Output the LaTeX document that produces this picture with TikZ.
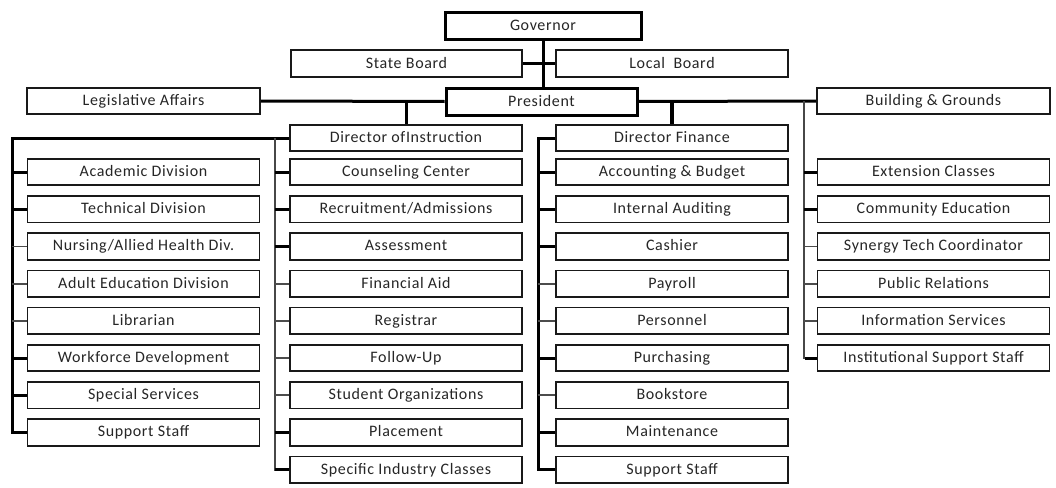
\documentclass[tikz,border=0pt]{standalone}
\usepackage{fontspec}
\setmainfont{Carlito}[LetterSpace=4]
\begin{document}
\begin{tikzpicture}[x=1pt,y=-1pt,
  box/.style={draw=black!90,line width=1.7pt,minimum width=232pt,minimum height=26.5pt,inner sep=0pt,
    text height=12pt,text depth=3pt,
    font=\fontsize{16}{18}\selectfont,text=black!85,fill=white},
  topbox/.style={box,line width=3pt,draw=black},
  heavy/.style={line width=3pt,draw=black},
  light/.style={line width=2pt,draw=black!72},
  stubH/.style={line width=3pt,draw=black},
  stubL/.style={line width=1.8pt,draw=black!70}]
\useasboundingbox (0,0) rectangle (1056,487);
% top level
\node[topbox,minimum width=196pt,minimum height=27pt] (gov) at (543,26) {Governor};
\node[box,minimum width=231pt] (sb) at (406.5,63.5) {State Board};
\node[box] (lb) at (672,63.5) {Local\ \ Board};
\node[box,minimum width=233pt] (leg) at (143.5,101) {Legislative Affairs};
\node[topbox,minimum width=191pt,minimum height=27pt] (pres) at (541.5,101.5) {President};
\node[box,minimum width=233pt] (bg) at (933.5,101) {Building \& Grounds};
\node[box] (di) at (406,138) {Director ofInstruction};
\node[box] (df) at (672,138) {Director Finance};
% columns
\foreach \i/\t in {1/{Academic Division},2/{Technical Division},3/{Nursing/Allied Health Div.},4/{Adult Education Division},5/{Librarian},6/{Workforce Development},7/{Special Services},8/{Support Staff}}
  \node[box] (c1-\i) at (143.5,{172+37.2*(\i-1)}) {\t};
\foreach \i/\t in {1/{Counseling Center},2/{Recruitment/Admissions},3/{Assessment},4/{Financial Aid},5/{Registrar},6/{Follow-Up},7/{Student Organizations},8/{Placement},9/{Specific Industry Classes}}
  \node[box] (c2-\i) at (406,{172+37.2*(\i-1)}) {\t};
\foreach \i/\t in {1/{Accounting \& Budget},2/{Internal Auditing},3/{Cashier},4/{Payroll},5/{Personnel},6/{Purchasing},7/{Bookstore},8/{Maintenance},9/{Support Staff}}
  \node[box] (c3-\i) at (672,{172+37.2*(\i-1)}) {\t};
\foreach \i/\t in {1/{Extension Classes},2/{Community Education},3/{Synergy Tech Coordinator},4/{Public Relations},5/{Information Services},6/{Institutional Support Staff}}
  \node[box] (c4-\i) at (933.5,{172+37.2*(\i-1)}) {\t};
% top connectors
\draw[heavy] (gov.south) -- (gov.south |- pres.north);
\draw[heavy] (sb.east) -- (lb.west);
\draw[heavy] (leg.east) -- (pres.west);
\draw[heavy] (pres.east) -- (bg.west);
\draw[heavy] (di.north) -- (di.north |- leg.east);
\draw[heavy,line width=4pt] (df.north) -- (df.north |- pres.east);
% column trunks
\coordinate (c1top) at (12,138);
\coordinate (c2top) at (275,138);
\coordinate (c3top) at (538,138);
\coordinate (c4top) at (804,101);
\draw[heavy] (di.west) -- (c1top) |- (c1-8.west);
\draw[light] (c2top) |- (c2-9.west);
\draw[heavy] (df.west) -- (c3top) |- (c3-9.west);
\draw[light] (c4top) |- (c4-6.west);
% stubs
\foreach \i/\s in {1/stubH,2/stubH,3/stubL,4/stubL,5/stubL,6/stubH,7/stubH}
  \draw[\s] (c1-\i.west) -- (c1-\i.west -| c1top);
\foreach \i/\s in {1/stubH,2/stubH,3/stubH,4/stubL,5/stubL,6/stubL,7/stubL,8/stubH}
  \draw[\s] (c2-\i.west) -- (c2-\i.west -| c2top);
\draw[stubH] (c2-9.west) -- ++(-14,0);
\foreach \i/\s in {1/stubH,2/stubH,3/stubH,4/stubL,5/stubL,6/stubH,7/stubL,8/stubH}
  \draw[\s] (c3-\i.west) -- (c3-\i.west -| c3top);
\foreach \i/\s in {1/stubH,2/stubH,3/stubL,4/stubL,5/stubL}
  \draw[\s] (c4-\i.west) -- (c4-\i.west -| c4top);
\draw[stubH] (c4-6.west) -- ++(-12,0);
\end{tikzpicture}
\end{document}
